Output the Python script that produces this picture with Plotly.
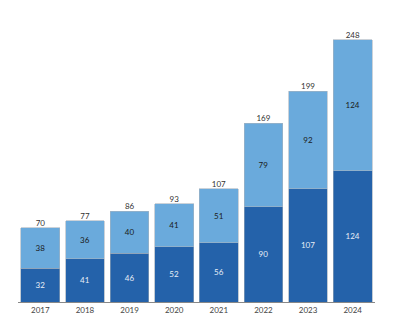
import plotly.graph_objects as go

years = ["2017", "2018", "2019", "2020", "2021", "2022", "2023", "2024"]
bottom = [32, 41, 46, 52, 56, 90, 107, 124]
top = [38, 36, 40, 41, 51, 79, 92, 124]
totals = [70, 77, 86, 93, 107, 169, 199, 248]

font = "Lato"
fig = go.Figure()
fig.add_trace(go.Bar(x=years, y=bottom, marker=dict(color="#2462AA", line=dict(color="#9aa8b8", width=0.6)),
                     text=[str(v) for v in bottom], textposition="inside", insidetextanchor="middle",
                     textfont=dict(color="#e8eef6", size=8, family=font)))
fig.add_trace(go.Bar(x=years, y=top, marker=dict(color="#6AAADC", line=dict(color="#a8b4c0", width=0.6)),
                     text=[str(v) for v in top], textposition="inside", insidetextanchor="middle",
                     textfont=dict(color="#1a1a1a", size=8, family=font)))
fig.add_trace(go.Scatter(x=years, y=totals, mode="text", text=[str(v) for v in totals],
                         textposition="top center", textfont=dict(color="#333333", size=8, family=font),
                         cliponaxis=False))
fig.update_layout(
    barmode="stack", bargap=0.13, showlegend=False,
    width=400, height=325, margin=dict(l=18, r=25, t=10, b=21),
    paper_bgcolor="white", plot_bgcolor="white",
    uniformtext=dict(minsize=8, mode="show"),
)
fig.update_xaxes(showline=True, linecolor="#888888", linewidth=1, ticks="", showgrid=False,
                 tickfont=dict(size=8, color="#444444", family=font))
fig.update_yaxes(range=[0, 276], visible=False, showgrid=False)
fig.write_html("out.html")
